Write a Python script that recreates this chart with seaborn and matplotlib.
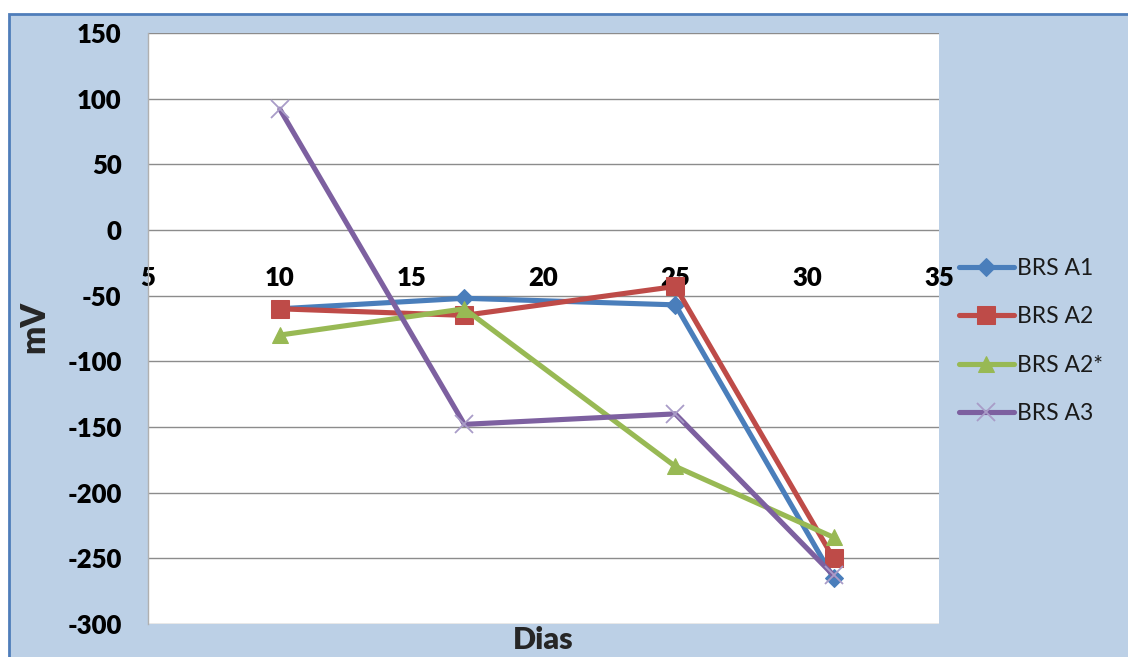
import numpy as np
import pandas as pd
import matplotlib
matplotlib.use("Agg")
import matplotlib.pyplot as plt
from matplotlib.patches import Rectangle
import seaborn as sns

# Dados
dias = [10, 17, 25, 31]
brs_a1 = [-60, -52, -57, -265]
brs_a2 = [-60, -65, -43, -250]
brs_a2s = [-80, -60, -180, -234]
brs_a3 = [92, -148, -140, -263]

series = ["BRS A1", "BRS A2", "BRS A2*", "BRS A3"]
valores = [brs_a1, brs_a2, brs_a2s, brs_a3]
cores = ["#4A7EBB", "#BE4B48", "#98B954", "#7D60A0"]
marcadores = ["D", "s", "^", "x"]
tam_marc = [9, 13, 12, 13]

yticks = [-300, -250, -200, -150, -100, -50, 0, 50, 100, 150]
xticks = [5, 10, 15, 20, 25, 30, 35]

df = pd.DataFrame({
    "Dias": dias * len(series),
    "mV": sum(valores, []),
    "Serie": [s for s in series for _ in dias],
})

sns.set_theme(style="white")
plt.rcParams["font.family"] = ["Lato", "DejaVu Sans"]
plt.rcParams["axes.unicode_minus"] = False

fig = plt.figure(figsize=(11.28, 6.57), dpi=100, facecolor="white")
# moldura azul do grafico
fig.patches.append(Rectangle((9 / 1128, -0.1), 1.1, (657 - 14) / 657 + 0.1,
                             transform=fig.transFigure, facecolor="#BCD0E6",
                             edgecolor="#4F7DBA", linewidth=2, zorder=-1))

ax = fig.add_axes([148 / 1128, 33 / 657, 791 / 1128, 591 / 657])
ax.set_facecolor("white")

for s, cor, m, ms in zip(series, cores, marcadores, tam_marc):
    d = df[df["Serie"] == s]
    if m == "x":
        sns.lineplot(data=d, x="Dias", y="mV", ax=ax, color=cor, lw=3.7,
                     marker=m, markersize=ms, markeredgecolor="#A99CC8",
                     markeredgewidth=1.3, label=s)
    else:
        sns.lineplot(data=d, x="Dias", y="mV", ax=ax, color=cor, lw=3.7,
                     marker=m, markersize=ms, markeredgecolor=cor, label=s)

ax.set_xlim(5, 35)
ax.set_ylim(-300, 150)
ax.set_yticks(yticks)
ax.set_xticks(xticks)
ax.yaxis.grid(True, color="#8C8C8C", linewidth=1)
ax.xaxis.grid(False)

for sp in ["top", "right"]:
    ax.spines[sp].set_visible(False)
ax.spines["left"].set_color("#B0B0B0")
ax.spines["left"].set_linewidth(1)
ax.spines["bottom"].set_position(("data", 0))
ax.spines["bottom"].set_visible(False)

ax.tick_params(axis="y", length=0, pad=19, labelsize=18.5, labelcolor="black")
ax.tick_params(axis="x", length=0, pad=26, labelsize=18.5, labelcolor="black")
for lab in ax.get_xticklabels() + ax.get_yticklabels():
    lab.set_fontweight("heavy")

ax.set_xlabel("Dias", fontsize=22, fontweight="heavy")
ax.set_ylabel("mV", fontsize=24, fontweight="heavy")
ax.xaxis.set_label_coords(0.5, -0.004)
ax.yaxis.set_label_coords(-0.124, 0.503)

leg = ax.legend(loc="upper left", bbox_to_anchor=(1.025, 0.62), frameon=False,
                fontsize=16.5, handlelength=2.4, handletextpad=0.15,
                labelspacing=1.2, borderpad=0, borderaxespad=0)
for t in leg.get_texts():
    t.set_color("#1A1A1A")

fig.savefig("out.png", dpi=100, facecolor=fig.get_facecolor())
